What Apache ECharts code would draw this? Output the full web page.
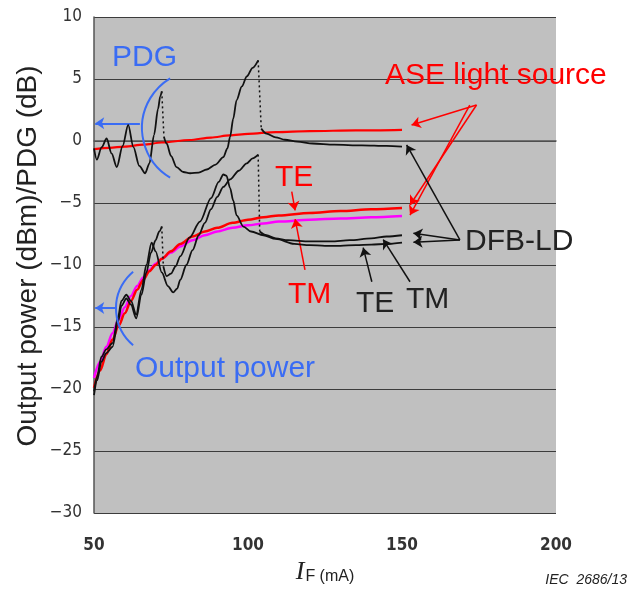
<!DOCTYPE html>
<html>
<head>
<meta charset="utf-8">
<script src="https://cdn.jsdelivr.net/npm/echarts@6/dist/echarts.min.js"></script>
<style>
  html, body { margin: 0; padding: 0; background: #fff; }
  #main { width: 629px; height: 590px; }
</style>
</head>
<body>
<div id="main"></div>
<script>
// axis ranges
var xRange = [50, 200, 50];
var yRange = [-30, 10, 5];

// PDG of the ASE light source (red)
var pdgAse = [[50,-0.65],[55,-0.55],[60,-0.45],[66,-0.3],[72,-0.12],[81,0.08],[88,0.28],[94,0.45],
  [100,0.58],[109,0.72],[120,0.8],[135,0.85],[150,0.9]];

// PDG of the DFB-LD (black), split where the trace jumps (jumps drawn dotted)
var pdgDfb = [
  [[50,-0.6],[50.9,-1.5],[52.5,-0.5],[54.1,0.2],[55.7,-1.0],[57.4,-2.1],[59.3,-0.4],[61.1,1.3],
   [62.8,-0.5],[64.7,-2.0],[66.6,-2.6],[68,-1.8],[69.5,0.5],[70.8,2.6],[71.5,3.6],[72,4.0]],
  [[72.7,0.35],[73.6,-0.2],[75,-1.2],[76.8,-2.1],[79,-2.5],[81.2,-2.6],[84,-2.55],[86.6,-2.3],
   [89.5,-1.9],[92,-1.3],[93.3,-0.6],[94.2,0.35],[95.2,1.8],[96.3,3.3],[98,4.4],[99.6,5.2],
   [101.5,5.9],[103.3,6.5]],
  [[104.3,1.0],[106,0.6],[109,0.3],[112,0.1],[116,-0.05],[121,-0.2],[128,-0.3],[137,-0.35],
   [145,-0.4],[150,-0.45]]
];

// output power of the ASE light source, TE (red) and TM (magenta)
var outAseTe = [[50,-19.9],[52,-18.5],[54,-17.2],[56,-16.0],[58,-14.9],[60,-13.9],[62,-12.9],
  [64,-12.0],[66,-11.2],[68,-10.5],[70,-10.0],[72,-9.5],[75,-8.9],[78,-8.3],[82,-7.7],[86,-7.3],
  [90,-7.0],[95,-6.6],[100,-6.35],[105,-6.15],[110,-6.0],[120,-5.8],[130,-5.65],[140,-5.5],[150,-5.4]];
var outAseTm = [[50,-19.1],[52,-17.8],[54,-16.6],[56,-15.5],[58,-14.4],[60,-13.4],[62,-12.5],
  [64,-11.7],[66,-11.0],[68,-10.4],[70,-9.9],[72,-9.5],[75,-9.0],[78,-8.5],[82,-8.0],[86,-7.6],
  [90,-7.3],[95,-7.0],[100,-6.8],[105,-6.65],[110,-6.5],[120,-6.35],[130,-6.25],[140,-6.15],[150,-6.05]];

// output power of the DFB-LD, TE and TM (black)
var outDfbTe = [
  [[50,-20.5],[51,-19.3],[52.4,-17.8],[54,-17.1],[56,-16.6],[57.8,-14.6],[58.9,-13.3],[60.5,-12.7],
   [62,-13.2],[63.7,-14.3],[65.4,-12.4],[67,-10.6],[68.5,-9.0],[70,-8.0],[71.2,-7.3],[72,-6.9]],
  [[72.5,-10.1],[73.6,-10.9],[75,-10.7],[76.5,-10.1],[78,-9.3],[81,-7.8],[84.4,-6.5],[88,-4.6],
   [90.5,-3.3],[92,-2.7],[93,-2.8],[94.2,-3.8],[95.2,-4.8],[96.3,-6.0],[98.5,-6.9],[101,-7.3],
   [105,-7.6],[109,-7.9],[115,-8.3],[120,-8.4],[125,-8.45],[130,-8.45],[135,-8.4],[140,-8.35],
   [145,-8.3],[150,-8.2]]
];
var outDfbTm = [
  [[50,-20.2],[51,-19.0],[52.4,-17.4],[54,-16.8],[56,-16.3],[57.8,-14.2],[58.9,-12.9],[60.5,-12.4],
   [62,-12.9],[63.7,-14.0],[65.4,-12.0],[67,-10.0],[68.7,-8.2],[70,-8.9],[72,-10.6],[74,-11.7],
   [75.7,-12.2],[77,-11.9],[78,-11.2],[80,-10.0],[82,-8.8],[84,-7.6],[86,-6.6],[88,-5.5],[90,-4.5],
   [92,-3.7],[94.2,-3.1],[97,-2.4],[99.6,-1.8],[101.5,-1.4],[103.3,-1.1]],
  [[103.8,-7.3],[106,-7.6],[109,-7.85],[113,-8.0],[120,-8.1],[127,-8.1],[133,-8.0],[140,-7.85],
   [145,-7.7],[150,-7.6]]
];

// annotation arrows, [from, to] in data coordinates
var redArrows = [
  [[174.2,2.9],[153.1,1.29]],
  [[174.2,2.9],[152.6,-5.16]],
  [[172.0,2.9],[152.6,-5.97]],
  [[114.2,-4.09],[115.3,-5.6]],
  [[118.5,-10.4],[115.3,-6.3]]
];
var blackArrows = [
  [[168.8,-7.98],[151.5,-0.32]],
  [[168.8,-7.98],[153.7,-7.44]],
  [[168.8,-7.98],[153.7,-8.17]],
  [[140.2,-11.35],[137.4,-8.6]],
  [[152.6,-11.35],[143.9,-7.95]]
];
var blueArrows = [
  [[64.9,1.43],[50.4,1.43]],
  [[57.1,-13.47],[50.4,-13.47]]
];

var chart = echarts.init(document.getElementById('main'));

function curve(pts, color, width, z) {
  return {
    type: 'line', data: pts, showSymbol: false, silent: true,
    smooth: 0.3, smoothMonotone: 'x', z: z,
    lineStyle: { color: color, width: width }
  };
}

// dotted jumps between the pieces of a trace
function jumps(pieces, color) {
  var out = [];
  for (var i = 0; i < pieces.length - 1; i++) {
    var a = pieces[i][pieces[i].length - 1];
    var b = pieces[i + 1][0];
    out.push({
      type: 'line', data: [a, b], showSymbol: false, silent: true, z: 4,
      lineStyle: { color: color, width: 1.5, type: [2, 3] }
    });
  }
  return out;
}

function arrowLines(list, color, width) {
  return list.map(function (a) {
    return [{ coord: a[0], lineStyle: { color: color, width: width, type: 'solid' } }, { coord: a[1] }];
  });
}

var series = [];
series.push(curve(pdgAse, '#ff0000', 2.2, 3));
series.push(curve(outAseTm, '#ff00ff', 2.5, 3));
series.push(curve(outAseTe, '#ff0000', 2.5, 3));
pdgDfb.forEach(function (p) { series.push(curve(p, '#111', 1.8, 5)); });
outDfbTe.forEach(function (p) { series.push(curve(p, '#111', 1.8, 5)); });
outDfbTm.forEach(function (p) { series.push(curve(p, '#111', 1.8, 5)); });
series = series.concat(jumps(pdgDfb, '#111'), jumps(outDfbTe, '#111'), jumps(outDfbTm, '#111'));

// arrows hang on the first series
series[0].markLine = {
  silent: true, animation: false,
  symbol: ['none', 'arrow'], symbolSize: 9,
  label: { show: false },
  data: arrowLines(redArrows, '#ff0000', 1.5)
    .concat(arrowLines(blackArrows, '#111', 1.5))
    .concat(arrowLines(blueArrows, '#3a6cf4', 2))
};

var blue = '#3a6cf4';
var annoFont = '"Liberation Sans", Arial, sans-serif';
function label(text, x, y, color, size) {
  return {
    type: 'text', x: x, y: y, silent: true, z: 20,
    style: { text: text, fill: color, font: size + 'px ' + annoFont, verticalAlign: 'middle' }
  };
}
function bracket(cx, cy, r, a0, a1) {
  return {
    type: 'arc', silent: true, z: 20,
    shape: { cx: cx, cy: cy, r: r, startAngle: a0 * Math.PI / 180, endAngle: a1 * Math.PI / 180, clockwise: true },
    style: { stroke: blue, lineWidth: 2, fill: null }
  };
}

var axisFont = '"Liberation Sans Narrow", "DejaVu Sans Condensed", sans-serif';

chart.setOption({
  animation: false,
  backgroundColor: '#ffffff',
  grid: {
    left: 94, right: 73, top: 17, bottom: 77,
    outerBoundsMode: 'none', containLabel: false,
    show: true, backgroundColor: '#c0c0c0', borderWidth: 0
  },
  xAxis: {
    type: 'value', min: xRange[0], max: xRange[1], interval: xRange[2],
    axisLine: { show: true, lineStyle: { color: '#555', width: 1.5 } },
    axisTick: { show: false },
    splitLine: { show: false },
    axisLabel: { color: '#333', fontSize: 17, fontWeight: 'bold', fontFamily: axisFont, margin: 24 },
    name: '{i|I}{s|F (mA)}',
    nameLocation: 'middle', nameGap: 46,
    nameTextStyle: {
      rich: {
        i: { fontFamily: '"Liberation Serif", "Times New Roman", serif', fontStyle: 'italic', fontSize: 26, color: '#222' },
        s: { fontFamily: annoFont, fontSize: 16, color: '#222', padding: [9, 0, 0, 1] }
      }
    }
  },
  yAxis: {
    type: 'value', min: yRange[0], max: yRange[1], interval: yRange[2],
    axisLine: { show: true, lineStyle: { color: '#555', width: 1.5 } },
    axisTick: { show: false },
    splitLine: { show: true, lineStyle: { color: '#3c3c3c', width: 1 } },
    axisLabel: {
      color: '#333', fontSize: 17, fontFamily: axisFont, margin: 12,
      formatter: function (v) { return v < 0 ? '\u2212' + Math.abs(v) : String(v); }
    }
  },
  series: series,
  graphic: [
    {
      type: 'text', x: 28, y: 256, rotation: Math.PI / 2, silent: true,
      style: { text: 'Output power (dBm)/PDG (dB)', fill: '#222', font: '28px ' + annoFont, align: 'center', verticalAlign: 'middle' }
    },
    label('PDG', 112, 58, blue, 30),
    label('Output power', 135, 369, blue, 30),
    label('ASE light source', 385, 76, '#ff0000', 30),
    label('TE', 275, 178, '#ff0000', 30),
    label('TM', 288, 295, '#ff0000', 30),
    label('TE', 356, 304, '#222', 30),
    label('TM', 406, 300, '#222', 30),
    label('DFB-LD', 465, 242, '#222', 30),
    bracket(200, 128, 58, 121, 239),
    bracket(164, 308.5, 48, 130, 230),
    {
      type: 'text', x: 627, y: 580, silent: true,
      style: { text: 'IEC  2686/13', fill: '#222', font: 'italic 14px ' + annoFont, align: 'right', verticalAlign: 'middle' }
    }
  ]
});
</script>
</body>
</html>
